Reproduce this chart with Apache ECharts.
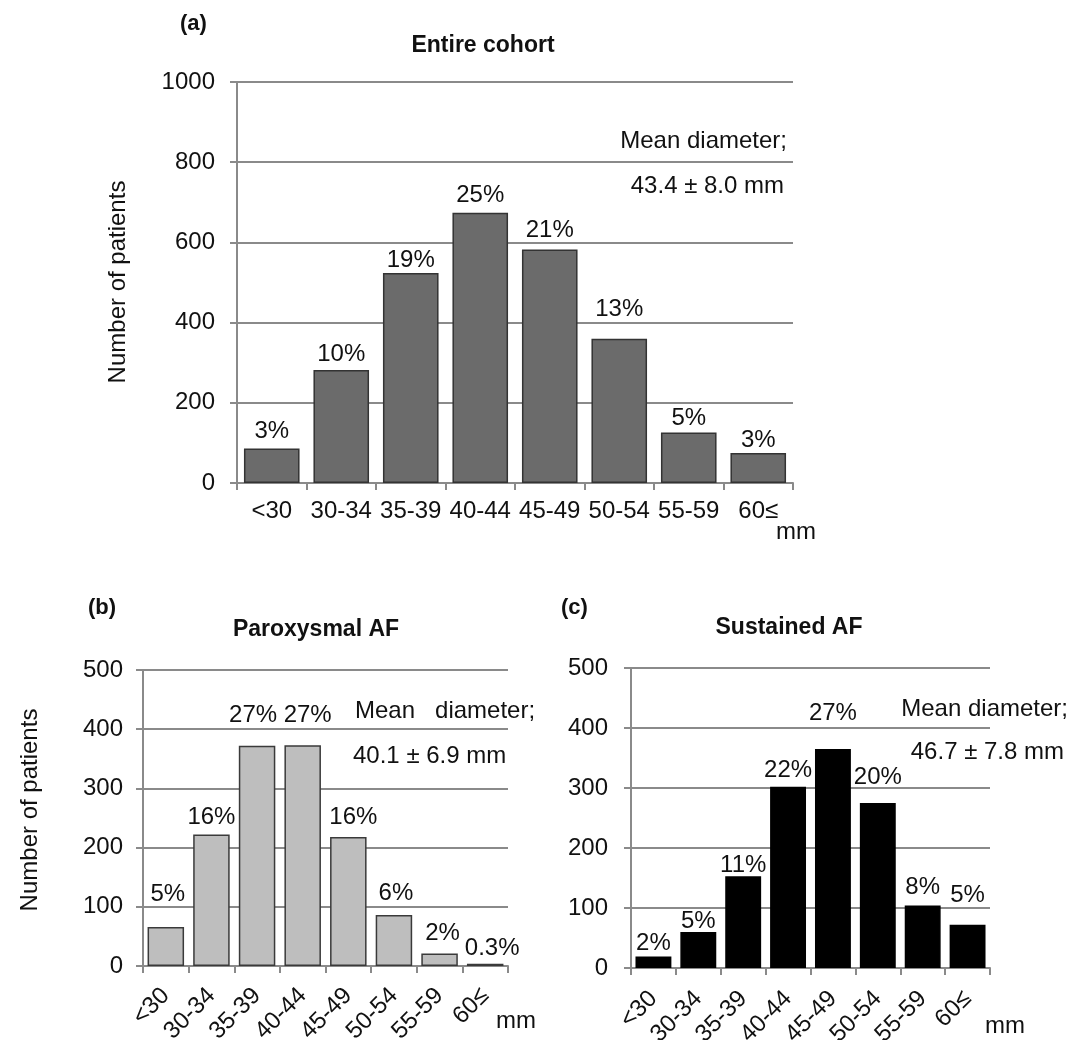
<!DOCTYPE html>
<html><head><meta charset="utf-8">
<script src="https://cdn.jsdelivr.net/npm/echarts@6/dist/echarts.min.js"></script>
<style>html,body{margin:0;padding:0;background:#fff}#chart{width:1083px;height:1040px}</style>
</head><body><div id="chart"></div>
<script>
// ---- data ----
const categories = ['<30', '30-34', '35-39', '40-44', '45-49', '50-54', '55-59', '60≤'];
const entireCounts = [86, 282, 524, 674, 582, 360, 126, 75];
const entirePct = ['3%', '10%', '19%', '25%', '21%', '13%', '5%', '3%'];
const paroxCounts = [66, 222, 372, 373, 218, 86, 21, 4];
const paroxPct = ['5%', '16%', '27%', '27%', '16%', '6%', '2%', '0.3%'];
const sustainedCounts = [19, 60, 153, 302, 365, 275, 104, 72];
const sustainedPct = ['2%', '5%', '11%', '22%', '27%', '20%', '8%', '5%'];
const entireAxis = { min: 0, max: 1000, interval: 200 };
const subAxis = { min: 0, max: 500, interval: 100 };
const texts = {
  a: '(a)', b: '(b)', c: '(c)',
  titleA: 'Entire cohort', titleB: 'Paroxysmal AF', titleC: 'Sustained AF',
  meanLabel: 'Mean diameter;', meanLabelB: 'Mean   diameter;',
  meanA: '43.4 ± 8.0 mm', meanB: '40.1 ± 6.9 mm', meanC: '46.7 ± 7.8 mm',
  unit: 'mm', yName: 'Number of patients'
};

// ---- label layout (placement of the percentage labels, not data) ----
const gapA = [5, 3.5, 1, 5.5, 7.5, 17, 2.5, 0.5];
const gapB = [21, 5, 18, 18, 7.5, 10, 8, 3.5];
const dxB = [2, 0, -4, 5, 5, 2, 3, 7];
const gapC = [1, -1.5, -1.5, 4, 24, 14, 6, 17.5];

const FONT = "'Liberation Sans', Arial, sans-serif";
const FS = 24;
const AX = '#8a8a8a';
const TXT = '#111';

function xAxisCfg(idx, rotate, margin) {
  return {
    type: 'category', gridIndex: idx, data: categories,
    axisLine: { show: true, lineStyle: { color: AX, width: 2 } },
    axisTick: { show: true, length: 7, lineStyle: { color: AX, width: 2 } },
    axisLabel: { color: TXT, fontFamily: FONT, fontSize: FS, rotate: rotate, margin: margin, interval: 0 }
  };
}
function yAxisCfg(idx, ax, margin) {
  return {
    type: 'value', gridIndex: idx, min: ax.min, max: ax.max, interval: ax.interval,
    axisLine: { show: true, lineStyle: { color: AX, width: 2 } },
    axisTick: { show: true, length: 7, lineStyle: { color: AX, width: 2 } },
    splitLine: { show: true, lineStyle: { color: AX, width: 2 } },
    axisLabel: { color: TXT, fontFamily: FONT, fontSize: FS, margin: margin, formatter: v => String(v) }
  };
}
function barSeries(idx, counts, pct, gaps, dxs, fill, border) {
  return {
    type: 'bar', xAxisIndex: idx, yAxisIndex: idx, barCategoryGap: '20%',
    itemStyle: { color: fill, borderColor: border, borderWidth: 1.5 },
    data: counts.map((v, i) => ({
      value: v,
      label: { distance: gaps[i], offset: [dxs ? dxs[i] : 0, 0] }
    })),
    label: {
      show: true, position: 'top', color: TXT, fontFamily: FONT, fontSize: FS,
      formatter: p => pct[p.dataIndex]
    }
  };
}
function txt(x, y, s, opt) {
  opt = opt || {};
  return {
    type: 'text', x: x, y: y, rotation: opt.rot || 0, silent: true,
    style: {
      text: s, fill: TXT,
      font: (opt.bold ? 'bold ' : '') + (opt.fs || FS) + 'px ' + FONT,
      align: opt.align || 'left', verticalAlign: 'middle'
    }
  };
}

const chart = echarts.init(document.getElementById('chart'), null, { renderer: 'canvas' });
chart.setOption({
  backgroundColor: '#fff',
  animation: false,
  grid: [
    { left: 237, top: 82, width: 556, height: 401, containLabel: false, outerBoundsMode: 'none' },
    { left: 143, top: 670, width: 365, height: 296, containLabel: false, outerBoundsMode: 'none' },
    { left: 631, top: 668, width: 359, height: 300, containLabel: false, outerBoundsMode: 'none' }
  ],
  xAxis: [xAxisCfg(0, 0, 16), xAxisCfg(1, 45, 26), xAxisCfg(2, 45, 27)],
  yAxis: [yAxisCfg(0, entireAxis, 22), yAxisCfg(1, subAxis, 20), yAxisCfg(2, subAxis, 23)],
  series: [
    barSeries(0, entireCounts, entirePct, gapA, null, '#6b6b6b', '#333333'),
    barSeries(1, paroxCounts, paroxPct, gapB, dxB, '#bebebe', '#3a3a3a'),
    barSeries(2, sustainedCounts, sustainedPct, gapC, null, '#000000', '#000000')
  ],
  graphic: [
    txt(180, 24, texts.a, { bold: true, fs: 22 }),
    txt(483, 46, texts.titleA, { bold: true, align: 'center', fs: 23 }),
    txt(787, 141, texts.meanLabel, { align: 'right' }),
    txt(784, 186, texts.meanA, { align: 'right' }),
    txt(796, 532, texts.unit, {align: 'center'}),
    txt(118, 282, texts.yName, { rot: Math.PI / 2, align: 'center' }),

    txt(88, 608, texts.b, { bold: true, fs: 22 }),
    txt(316, 630, texts.titleB, { bold: true, align: 'center', fs: 23 }),
    txt(355, 711, texts.meanLabelB, {}),
    txt(353, 756, texts.meanB, {}),
    txt(516, 1021, texts.unit, {align: 'center'}),
    txt(30, 810, texts.yName, { rot: Math.PI / 2, align: 'center' }),

    txt(561, 608, texts.c, { bold: true, fs: 22 }),
    txt(789, 628, texts.titleC, { bold: true, align: 'center', fs: 23 }),
    txt(1068, 709, texts.meanLabel, { align: 'right' }),
    txt(1064, 752, texts.meanC, { align: 'right' }),
    txt(1005, 1026, texts.unit, {align: 'center'})
  ]
});
</script>
</body></html>
